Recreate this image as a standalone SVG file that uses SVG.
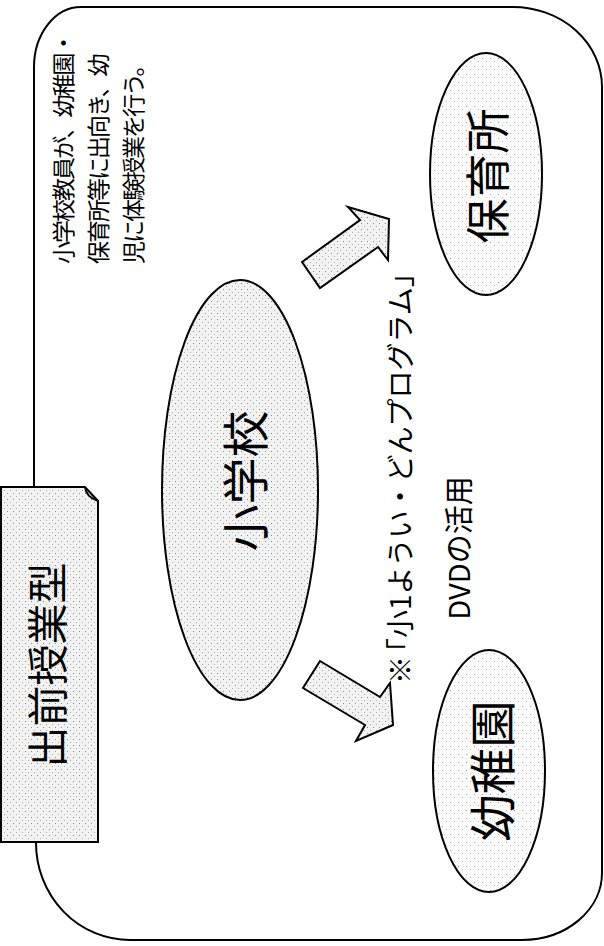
<svg xmlns="http://www.w3.org/2000/svg" width="604" height="946" viewBox="0 0 604 946">
<style>
.t{font-family:"Noto Sans CJK JP","Noto Sans CJK SC",sans-serif;fill:#000;dominant-baseline:central}
.ln{fill:none;stroke:#000;stroke-width:2}
</style>
<defs>
<pattern id="dots" width="6" height="6" patternUnits="userSpaceOnUse">
<rect width="6" height="6" fill="#f2f2f2"/>
<rect x="1" y="1" width="1" height="1" fill="#888"/>
<rect x="4" y="4" width="1" height="1" fill="#aaa"/>
</pattern>
<pattern id="dots2" width="8" height="8" patternUnits="userSpaceOnUse">
<rect width="8" height="8" fill="#fafafa"/>
<rect x="2" y="2" width="1" height="1" fill="#999"/>
<rect x="6" y="5" width="1" height="1" fill="#bbb"/>
</pattern>
</defs>
<rect width="604" height="946" fill="#fff"/>
<g id="frame">
<path class="ln" d="M34 487 L34 67 A47 60 0 0 1 81 7 L513 7 A89 80 0 0 1 602 87 L602 873 A80 67 0 0 1 522 940 L130 940 A94 97 0 0 1 36 843"/>
</g>
<g id="label">
<path d="M1 487 L85 487 L98 501 L98 842 L1 842 Z" fill="url(#dots)" stroke="#000" stroke-width="2"/>
<path class="ln" d="M85 487 Q86 497 98 501" stroke-width="1.5"/>
<text class="t" font-size="41" text-anchor="middle" transform="translate(45,665) rotate(-90)">出前授業型</text>
</g>
<g id="connectors">
<polygon points="302,262 360,220 348,207 389,219 388,260 378,247 320,288" fill="url(#dots)" stroke="#000" stroke-width="2"/>
<polygon points="320,661 380,697 390,683 393,725 356,741 365,725 303,688" fill="url(#dots)" stroke="#000" stroke-width="2"/>
</g>
<g id="shogakko">
<ellipse cx="240" cy="490" rx="78" ry="210" fill="url(#dots)" stroke="#000" stroke-width="2"/>
<text class="t" font-size="47" text-anchor="middle" transform="translate(242,481) rotate(-90)">小学校</text>
</g>
<g id="hoikusho">
<ellipse cx="486" cy="174" rx="56" ry="121" fill="url(#dots2)" stroke="#000" stroke-width="2"/>
<text class="t" font-size="45" text-anchor="middle" transform="translate(485,176) rotate(-90)">保育所</text>
</g>
<g id="yochien">
<ellipse cx="489" cy="771" rx="56" ry="121" fill="url(#dots2)" stroke="#000" stroke-width="2"/>
<text class="t" font-size="47" text-anchor="middle" transform="translate(489,771) rotate(-90)">幼稚園</text>
</g>
<g id="note">
<text class="t" font-size="23" letter-spacing="-2" text-anchor="start" transform="translate(62,264) rotate(-90)">小学校教員が、幼稚園・</text>
<text class="t" font-size="23" letter-spacing="-2" text-anchor="start" transform="translate(97,264) rotate(-90)">保育所等に出向き、幼</text>
<text class="t" font-size="23" letter-spacing="-2" text-anchor="start" transform="translate(132,264) rotate(-90)">児に体験授業を行う。</text>
</g>
<g id="program">
<text class="t" font-size="28" text-anchor="start" transform="translate(399,684) rotate(-90)">※<tspan dx="-10">「小1ようい・どんプログラム」</tspan></text>
<text class="t" font-size="29" text-anchor="middle" transform="translate(457,548) rotate(-90)">DVDの活用</text>
</g>
</svg>
